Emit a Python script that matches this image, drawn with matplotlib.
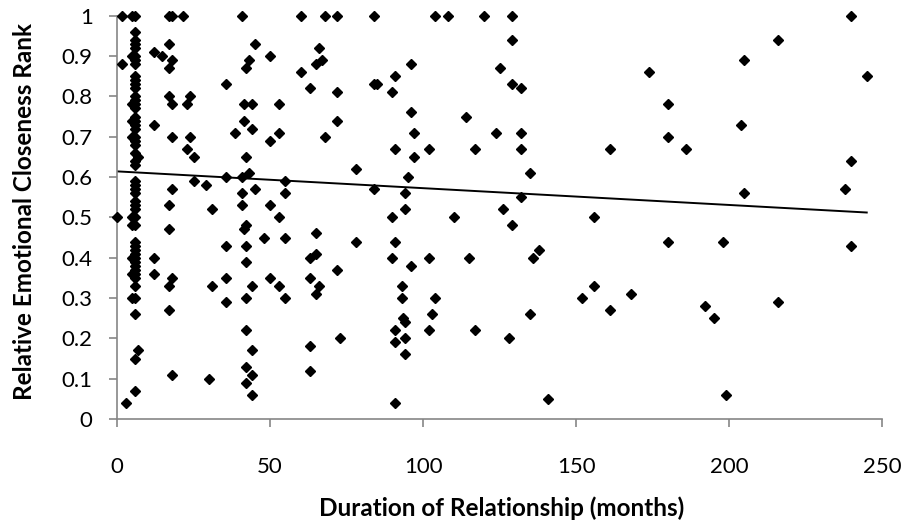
import numpy as np
import matplotlib
matplotlib.use("Agg")
import matplotlib.pyplot as plt
from matplotlib.ticker import FuncFormatter, MultipleLocator

plt.rcParams["font.family"] = ["Lato", "DejaVu Sans"]

# duration of relationship (months) and relative emotional closeness rank
# dense column of short relationships near 5-6 months
col_x = [1.5, 1.5, 0, 3, 5, 6,
         6, 6, 6, 6, 6, 6, 6, 6, 6, 6, 6, 6, 6, 6, 6, 6, 6,
         6, 6, 6, 6, 6, 6, 6, 6, 6, 6, 6, 6, 6, 6, 6, 6, 6, 6,
         7, 5, 5, 5, 5, 5, 5,
         6, 6, 6, 6, 6, 6, 6, 6, 6, 6, 6, 6, 6, 6, 7, 5, 5, 5]
col_y = [1.0, 0.88, 0.50, 0.04, 1.0, 1.0,
         0.96, 0.94, 0.93, 0.92, 0.90, 0.89, 0.88, 0.85, 0.84, 0.83, 0.82, 0.80, 0.79, 0.78, 0.77, 0.75, 0.74,
         0.73, 0.72, 0.70, 0.69, 0.68, 0.66, 0.64, 0.63, 0.59, 0.58, 0.57, 0.56, 0.54, 0.53, 0.52, 0.50, 0.48, 0.44,
         0.65, 0.90, 0.78, 0.74, 0.70, 0.50, 0.48,
         0.43, 0.42, 0.40, 0.39, 0.38, 0.37, 0.36, 0.33, 0.30, 0.26, 0.15, 0.07, 0.41, 0.35, 0.17, 0.40, 0.30, 0.36]

near_x = [12, 14.6, 17, 18, 17, 17, 18, 21.7, 41,
          35.6, 43, 42, 45,
          17, 18, 24, 23, 41.5, 44,
          41.5, 44, 38.6, 12,
          18, 24, 23, 25, 42,
          43, 41, 35.6, 25, 29, 18, 41, 45,
          17, 31, 41,
          17, 41.5, 42,
          35.6, 42, 12, 42, 12, 18, 17, 31, 35.6, 44, 35.6, 42, 17,
          42, 44, 42, 44, 42, 44, 18, 30]
near_y = [0.91, 0.90, 0.93, 0.89, 0.87, 1.0, 1.0, 1.0, 1.0,
          0.83, 0.89, 0.87, 0.93,
          0.80, 0.78, 0.80, 0.78, 0.78, 0.78,
          0.74, 0.72, 0.71, 0.73,
          0.70, 0.70, 0.67, 0.65, 0.65,
          0.61, 0.60, 0.60, 0.59, 0.58, 0.57, 0.56, 0.57,
          0.53, 0.52, 0.53,
          0.47, 0.47, 0.48,
          0.43, 0.43, 0.40, 0.39, 0.36, 0.35, 0.33, 0.33, 0.35, 0.33, 0.29, 0.30, 0.27,
          0.22, 0.17, 0.13, 0.11, 0.09, 0.06, 0.11, 0.10]

mid_x = [60, 68, 72, 84,
         50, 66, 67, 65, 60, 63, 72, 84, 85, 91, 96, 90,
         53, 72, 53, 50, 68, 96, 97, 91, 97,
         78, 95, 55, 55, 84, 94,
         50, 53, 94, 90,
         48, 55, 65, 63, 65, 78, 91, 90, 96,
         50, 53, 55, 63, 66, 65, 72, 93, 93, 93.5, 94, 91, 91, 94, 94,
         63, 63, 73, 91]
mid_y = [1.0, 1.0, 1.0, 1.0,
         0.90, 0.92, 0.89, 0.88, 0.86, 0.82, 0.81, 0.83, 0.83, 0.85, 0.88, 0.81,
         0.78, 0.74, 0.71, 0.69, 0.70, 0.76, 0.71, 0.67, 0.65,
         0.62, 0.60, 0.59, 0.56, 0.57, 0.56,
         0.53, 0.50, 0.52, 0.50,
         0.45, 0.45, 0.46, 0.40, 0.41, 0.44, 0.44, 0.40, 0.38,
         0.35, 0.33, 0.30, 0.35, 0.33, 0.31, 0.37, 0.33, 0.30, 0.25, 0.24, 0.22, 0.19, 0.20, 0.16,
         0.18, 0.12, 0.20, 0.04]

far_x = [104, 108, 120, 129, 129, 125, 129, 132, 114, 124, 132, 102, 117, 132, 161,
         135, 132, 126, 110, 129, 156, 102, 115, 136, 138,
         104, 103, 102, 117, 128, 135, 152, 156, 161, 168, 141,
         240, 216, 205, 174, 245, 180, 204, 180, 186, 240, 238, 205,
         180, 198, 240, 192, 195, 216, 199]
far_y = [1.0, 1.0, 1.0, 1.0, 0.94, 0.87, 0.83, 0.82, 0.75, 0.71, 0.71, 0.67, 0.67, 0.67, 0.67,
         0.61, 0.55, 0.52, 0.50, 0.48, 0.50, 0.40, 0.40, 0.40, 0.42,
         0.30, 0.26, 0.22, 0.22, 0.20, 0.26, 0.30, 0.33, 0.27, 0.31, 0.05,
         1.0, 0.94, 0.89, 0.86, 0.85, 0.78, 0.73, 0.70, 0.67, 0.64, 0.57, 0.56,
         0.44, 0.44, 0.43, 0.28, 0.25, 0.29, 0.06]

# linear trendline as shown on the chart (ends)
trend_x = [0, 245]
trend_y = [0.614, 0.512]

months = np.array(col_x + near_x + mid_x + far_x, dtype=float)
closeness = np.array(col_y + near_y + mid_y + far_y, dtype=float)

x_ticks = [0, 50, 100, 150, 200, 250]
grey = "#868686"

fig = plt.figure(figsize=(9.08, 5.30), dpi=100)
ax = fig.add_axes([0.1289, 0.2094, 0.8425, 0.761])

ax.plot(months, closeness, linestyle="none", marker="D", markersize=5.2,
        color="black", clip_on=False, zorder=3)
ax.plot(trend_x, trend_y, color="black", linewidth=1.4, zorder=2)

ax.set_xlim(0, 250)
ax.set_ylim(0, 1)
ax.set_xticks(x_ticks)
ax.yaxis.set_major_locator(MultipleLocator(0.1))
ax.yaxis.set_major_formatter(FuncFormatter(lambda v, p: "%g" % round(v, 1)))

for side in ["top", "right"]:
    ax.spines[side].set_visible(False)
for side in ["left", "bottom"]:
    ax.spines[side].set_color(grey)
    ax.spines[side].set_linewidth(1.2)

ax.tick_params(axis="both", direction="out", length=5.5, width=1.2, color=grey,
               labelsize=16, labelcolor="black")
ax.tick_params(axis="x", pad=22)
ax.tick_params(axis="y", pad=12)

fig.text(0.552, 0.042, "Duration of Relationship (months)", ha="center", va="center",
         fontsize=17.5, fontweight="bold")
fig.text(0.027, 0.601, "Relative Emotional Closeness Rank", ha="center", va="center",
         rotation=90, fontsize=17.5, fontweight="bold")

fig.savefig("out.png", dpi=100)
